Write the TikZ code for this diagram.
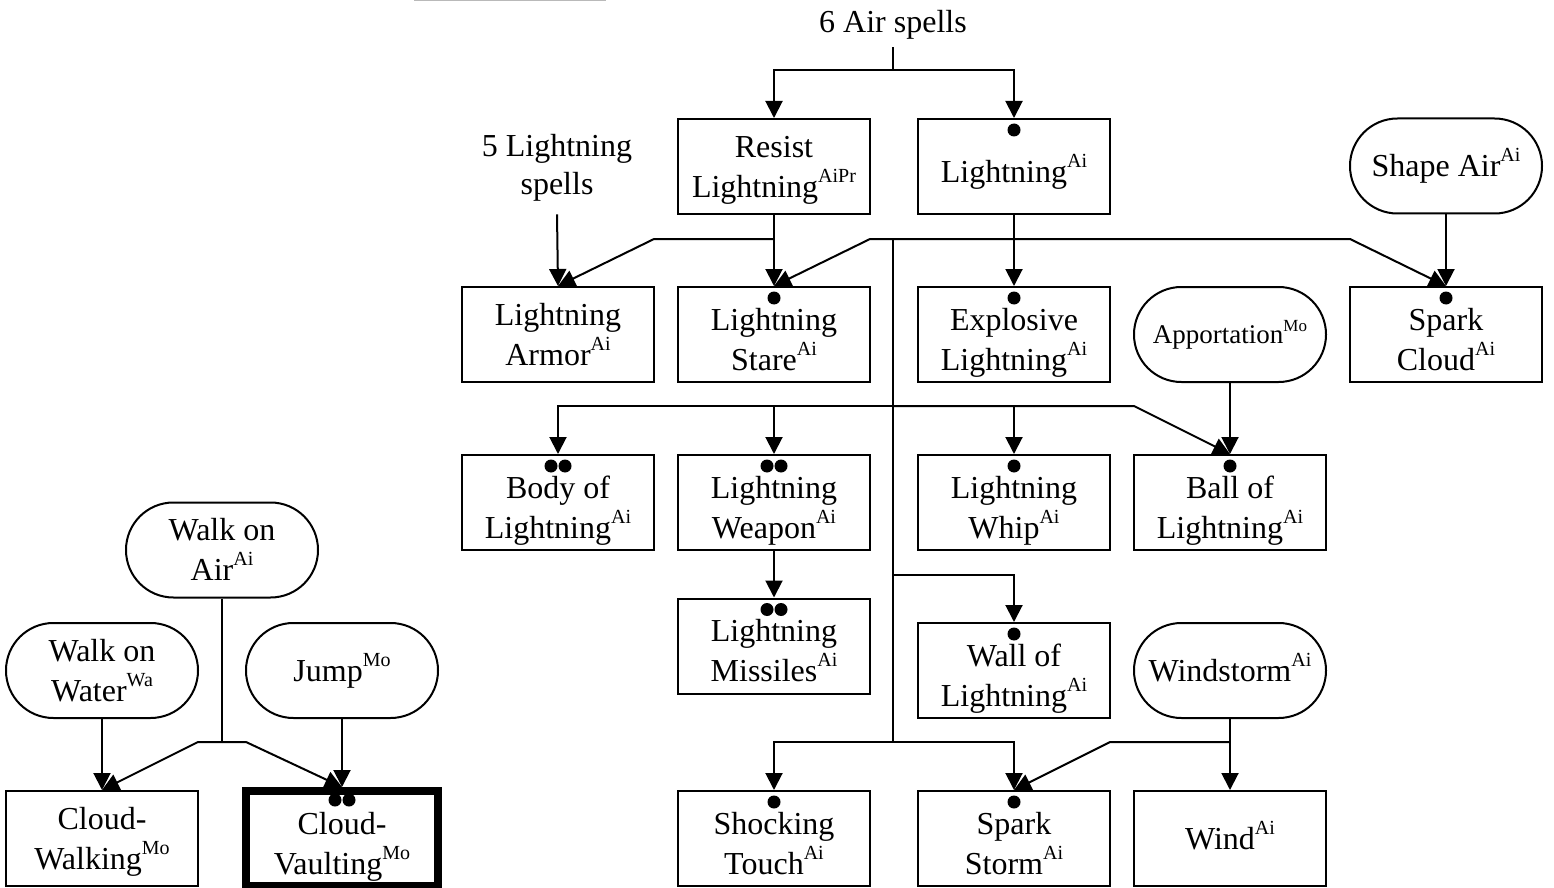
\documentclass[tikz,border=0pt]{standalone}
\usepackage{fontspec}
\setmainfont{Liberation Serif}
\usetikzlibrary{arrows.meta}
\newcommand\su[1]{\raisebox{7.5pt}{\fontsize{10}{10}\selectfont #1}}
\newcommand\sus[1]{\raisebox{6pt}{\fontsize{8.5}{8.5}\selectfont #1}}
\tikzset{
  box/.style={draw, line width=1pt, minimum width=96pt, minimum height=47.5pt, align=center, inner sep=0pt, text depth=0pt, font=\fontsize{16}{20}\selectfont},
  rbox/.style={box, rounded corners=23.7pt},
  thickbox/.style={box, line width=4pt},
  one/.style={text height=10.6pt},
  two/.style={text height=30.6pt},
  done/.style={text height=15.6pt},
  dtwo/.style={text height=35.6pt},
  plain/.style={align=center, inner sep=0pt, text depth=0pt, font=\fontsize{16}{19.5}\selectfont},
  ln/.style={line width=1pt},
  arr/.style={line width=1pt, -{Triangle[length=8.5pt,width=8.5pt]}},
  dot/.style={fill=black}
}
\begin{document}
\begin{tikzpicture}[x=0.5pt,y=-0.5pt]
\useasboundingbox (0,0) rectangle (1554,888);
\draw[gray!55, line width=1pt] (414,0.5) -- (606,0.5);
% nodes
\node[plain, text height=10.6pt] (airsp) at (893,22.4) {6 Air spells};
\node[plain, text height=30.1pt] (lsp) at (557,164.9) {5 Lightning\\spells};
\node[box,two] (resist) at (774,166.5) {Resist\\Lightning\su{AiPr}};
\node[box,done] (light) at (1014,166.5) {Lightning\su{Ai}};
\node[rbox,one] (shape) at (1446,166) {Shape Air\su{Ai}};
\node[box,two] (armor) at (558,334.5) {Lightning\\Armor\su{Ai}};
\node[box,dtwo] (stare) at (774,334.5) {Lightning\\Stare\su{Ai}};
\node[box,dtwo] (explo) at (1014,334.5) {Explosive\\Lightning\su{Ai}};
\node[rbox, text height=8.9pt, font=\fontsize{13.5}{17}\selectfont] (appor) at (1230,334.5) {Apportation\sus{Mo}};
\node[box,dtwo] (sparkc) at (1446,334.5) {Spark\\Cloud\su{Ai}};
\node[box,dtwo] (body) at (558,502.5) {Body of\\Lightning\su{Ai}};
\node[box,dtwo] (weapon) at (774,502.5) {Lightning\\Weapon\su{Ai}};
\node[box,dtwo] (whip) at (1014,502.5) {Lightning\\Whip\su{Ai}};
\node[box,dtwo] (ball) at (1230,502.5) {Ball of\\Lightning\su{Ai}};
\node[box,dtwo] (missiles) at (774,646) {Lightning\\Missiles\su{Ai}};
\node[box,dtwo] (wall) at (1014,670.5) {Wall of\\Lightning\su{Ai}};
\node[rbox,one] (windst) at (1230,670.5) {Windstorm\su{Ai}};
\node[box,dtwo] (shock) at (774,838.5) {Shocking\\Touch\su{Ai}};
\node[box,dtwo] (sstorm) at (1014,838.5) {Spark\\Storm\su{Ai}};
\node[box,one] (wind) at (1230,838.5) {Wind\su{Ai}};
\node[rbox,two] (walkair) at (222,550) {Walk on\\Air\su{Ai}};
\node[rbox,two] (walkwater) at (102,670.5) {Walk on\\Water\su{Wa}};
\node[rbox,one] (jump) at (342,670.5) {Jump\su{Mo}};
\node[box,two] (cwalk) at (102,838.5) {Cloud-\\Walking\su{Mo}};
\node[thickbox,dtwo] (cvault) at (342,838.5) {Cloud-\\Vaulting\su{Mo}};
% dots
\foreach \n in {light,stare,explo,sparkc,whip,ball,wall,shock,sstorm}
  \fill[dot] ([yshift=-6pt]\n.north) circle (3.25pt);
\foreach \n in {body,weapon,missiles}{
  \fill[dot] ([xshift=-3.5pt,yshift=-6pt]\n.north) circle (3.25pt);
  \fill[dot] ([xshift=3.5pt,yshift=-6pt]\n.north) circle (3.25pt);}
\fill[dot] ([xshift=-3.5pt,yshift=-6.5pt]cvault.north) circle (3.25pt);
\fill[dot] ([xshift=3.5pt,yshift=-6.5pt]cvault.north) circle (3.25pt);
% junction coordinates
\coordinate (j0) at (893,70);
\coordinate (r1) at (774,239);
\coordinate (r2) at (654,239);
\coordinate (l1) at (1014,239);
\coordinate (l2) at (870,239);
\coordinate (l3) at (1350,239);
\coordinate (t0) at (893,239);
\coordinate (t3) at (893,406);
\coordinate (t3b) at (1134,406);
\coordinate (t4) at (893,575);
\coordinate (t5) at (893,742);
\coordinate (w1) at (1230,742);
\coordinate (w2) at (1110,742);
\coordinate (a1) at (222,742);
\coordinate (a2) at (198,742);
\coordinate (a3) at (246,742);
% connectors
\draw[ln] ([yshift=-7pt]airsp.south) -- (j0);
\draw[arr] (j0) -| (resist.north);
\draw[arr] (j0) -| (light.north);
\draw[arr] ([yshift=-9.5pt]lsp.south) -- (armor.north);
\draw[ln] (resist.south) -- (r1);
\draw[arr] (r1) -- (stare.north);
\draw[arr] (r1) -- (r2) -- (armor.north);
\draw[ln] (light.south) -- (l1);
\draw[arr] (l1) -- (explo.north);
\draw[arr] (l1) -- (l2) -- (stare.north);
\draw[arr] (l1) -- (l3) -- (sparkc.north);
\draw[arr] (shape.south) -- (sparkc.north);
\draw[ln] (t0) -- (t5);
\draw[arr] (t3) -| (body.north);
\draw[arr] (t3) -| (weapon.north);
\draw[arr] (t3) -| (whip.north);
\draw[arr] (t3) -- (t3b) -- (ball.north);
\draw[arr] (appor.south) -- (ball.north);
\draw[arr] (weapon.south) -- (missiles.north);
\draw[arr] (t4) -| (wall.north);
\draw[arr] (t5) -| (shock.north);
\draw[arr] (t5) -| (sstorm.north);
\draw[ln] (windst.south) -- (w1);
\draw[arr] (w1) -- (wind.north);
\draw[arr] (w1) -- (w2) -- (sstorm.north);
\draw[ln] (walkair.south) -- (a1);
\draw[arr] (a1) -- (a2) -- (cwalk.north);
\draw[arr] (a1) -- (a3) -- (cvault.north);
\draw[arr] (walkwater.south) -- (cwalk.north);
\draw[arr] (jump.south) -- (cvault.north);
\end{tikzpicture}
\end{document}
